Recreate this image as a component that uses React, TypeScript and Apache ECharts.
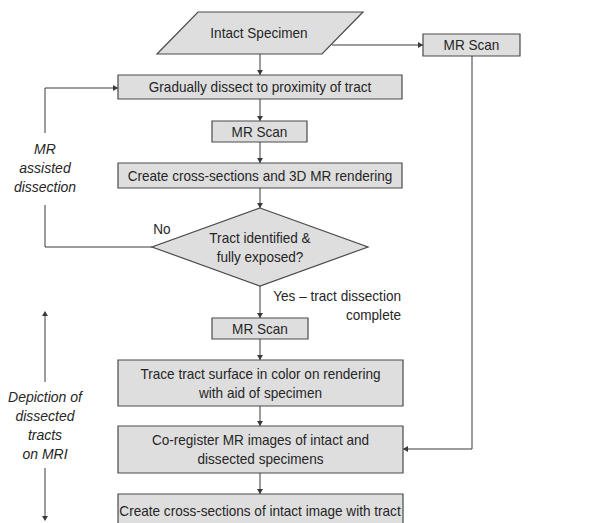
import React, { useEffect, useRef } from "react";
import * as echarts from "echarts";

// ---- Content (texts) ----
const startLabel = "Intact Specimen";
const scanLabel = "MR Scan";
const stepLabels = [
  "Gradually dissect to proximity of tract",
  "Create cross-sections and 3D MR rendering",
];
const decisionLabel = "Tract identified &\nfully exposed?";
const postLabels = [
  "Trace tract surface in color on rendering\nwith aid of specimen",
  "Co-register MR images of intact and\ndissected specimens",
  "Create cross-sections of intact image with tract",
];
const edgeLabels = ["No", "Yes \u2013 tract dissection\ncomplete"];
const sideLabels = ["MR\nassisted\ndissection", "Depiction of\ndissected\ntracts\non MRI"];

// ---- Styles ----
const FILL = "#dedede";
const STROKE = "#4a4a4a";
const LINE = "#3a3a3a";
const TEXT = "#262626";
const FONT = "14px 'Liberation Sans', Arial, sans-serif";
const IFONT = "italic 14px 'Liberation Sans', Arial, sans-serif";
const SX = 0.97;

function txt(x: number, y: number, text: string, font: string, align = "center", lh = 19, sx = SX) {
  return {
    type: "text",
    x,
    y,
    scaleX: sx,
    style: { text, font, fill: TEXT, align, verticalAlign: "middle", lineHeight: lh },
  };
}

function box(x: number, y: number, w: number, h: number, text: string) {
  return [
    { type: "rect", shape: { x, y, width: w, height: h }, style: { fill: FILL, stroke: STROKE, lineWidth: 1.2 } },
    txt(x + w / 2, y + h / 2 + 0.5, text, FONT),
  ];
}

function arrowHead(x: number, y: number, dir: "down" | "up" | "left" | "right") {
  const s = 5, w = 3;
  let pts: number[][];
  if (dir === "down") pts = [[x, y], [x - w, y - s], [x + w, y - s]];
  else if (dir === "up") pts = [[x, y], [x - w, y + s], [x + w, y + s]];
  else if (dir === "right") pts = [[x, y], [x - s, y - w], [x - s, y + w]];
  else pts = [[x, y], [x + s, y - w], [x + s, y + w]];
  return { type: "polygon", shape: { points: pts }, style: { fill: LINE } };
}

function poly(points: number[][]) {
  return { type: "polyline", shape: { points }, style: { stroke: LINE, lineWidth: 1, fill: null } };
}

export default function App() {
  const ref = useRef<HTMLDivElement>(null);
  useEffect(() => {
    document.body.style.margin = "0";
    const chart = echarts.init(ref.current!, null, { renderer: "svg" });
    const cx = 260;
    const els: any[] = [];

    // Parallelogram start
    els.push({
      type: "polygon",
      shape: { points: [[198, 12], [363, 12], [322, 54], [157, 54]] },
      style: { fill: FILL, stroke: STROKE, lineWidth: 1.2 },
    });
    els.push(txt(259, 33, startLabel, FONT));

    // Right MR scan
    els.push(...box(423, 34, 97, 22, scanLabel));
    els.push(poly([[332, 45], [423, 45]]), arrowHead(423, 45, "right"));
    els.push(poly([[472, 56], [472, 449], [403, 449]]), arrowHead(403, 449, "left"));

    // Main column
    els.push(poly([[cx, 54], [cx, 75]]), arrowHead(cx, 75, "down"));
    els.push(...box(118, 75, 284, 24, stepLabels[0]));
    els.push(poly([[cx, 99], [cx, 121]]), arrowHead(cx, 121, "down"));
    els.push(...box(212, 121, 95, 21, scanLabel));
    els.push(poly([[cx, 142], [cx, 163]]), arrowHead(cx, 163, "down"));
    els.push(...box(118, 163, 284, 25, stepLabels[1]));
    els.push(poly([[cx, 188], [cx, 208]]), arrowHead(cx, 208, "down"));

    // Diamond
    els.push({
      type: "polygon",
      shape: { points: [[cx, 208], [368, 247], [cx, 286], [152, 247]] },
      style: { fill: FILL, stroke: STROKE, lineWidth: 1.2 },
    });
    els.push(txt(cx, 248, decisionLabel, FONT));
    els.push(txt(162, 229, edgeLabels[0], FONT, "center"));

    // Loop back
    els.push(poly([[152, 247], [45, 247], [45, 205]]));
    els.push(poly([[45, 133], [45, 88], [118, 88]]), arrowHead(118, 88, "right"));
    els.push(txt(45, 168, sideLabels[0], IFONT, "center", 19, 1));

    // Yes branch
    els.push(poly([[cx, 286], [cx, 318]]), arrowHead(cx, 318, "down"));
    els.push(txt(401, 306, edgeLabels[1], FONT, "right", 19));
    els.push(...box(212, 318, 96, 21, scanLabel));
    els.push(poly([[cx, 339], [cx, 360]]), arrowHead(cx, 360, "down"));
    els.push(...box(118, 360, 285, 46, postLabels[0]));
    els.push(poly([[cx, 406], [cx, 426]]), arrowHead(cx, 426, "down"));
    els.push(...box(118, 426, 285, 47, postLabels[1]));
    els.push(poly([[cx, 473], [cx, 494]]), arrowHead(cx, 494, "down"));
    els.push({ type: "rect", shape: { x: 118, y: 494, width: 285, height: 40 }, style: { fill: FILL, stroke: STROKE, lineWidth: 1.2 } });
    els.push(txt(cx, 511, postLabels[2], FONT));

    // Depiction bracket
    els.push(poly([[45, 312], [45, 382]]), arrowHead(45, 311, "up"));
    els.push(poly([[45, 468], [45, 520]]), arrowHead(45, 521, "down"));
    els.push(txt(45, 425, sideLabels[1], IFONT, "center", 19, 1));

    chart.setOption({
      animation: false,
      backgroundColor: "#ffffff",
      graphic: { elements: els },
    });
    return () => chart.dispose();
  }, []);
  return <div ref={ref} style={{ width: 611, height: 523 }} />;
}
